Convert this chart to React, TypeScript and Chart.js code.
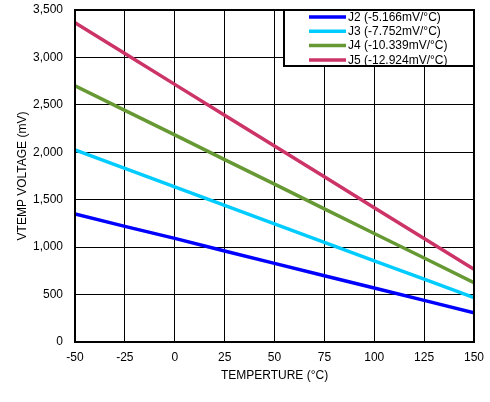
import React, { useEffect, useRef } from "react";
import { Chart, registerables } from "chart.js";

Chart.register(...registerables);

const temps = [-50, -25, 0, 25, 50, 75, 100, 125, 150];
const j2 = [1349, 1219, 1092, 960, 829, 699, 569, 439, 309];
const j3 = [2024, 1830, 1635, 1440, 1246, 1051, 856, 662, 467];
const j4 = [2702, 2442, 2183, 1923, 1664, 1404, 1144, 885, 625];
const j5 = [3366, 3041, 2716, 2391, 2066, 1741, 1416, 1091, 766];
const seriesLabels = [
  "J2 (-5.166mV/°C)",
  "J3 (-7.752mV/°C)",
  "J4 (-10.339mV/°C)",
  "J5 (-12.924mV/°C)",
];
const seriesColors = ["#0000FF", "#00CCFF", "#669933", "#CC3366"];
const xTitle = "TEMPERTURE (°C)";
const yTitle = "VTEMP VOLTAGE (mV)";

const FONT = "'Liberation Sans', Arial, Helvetica, sans-serif";

const framePlugin = {
  id: "frameAndLegend",
  afterDatasetsDraw(chart: any) {
    const { ctx, chartArea } = chart;
    ctx.save();
    ctx.strokeStyle = "#000";
    ctx.lineWidth = 2;
    ctx.strokeRect(
      chartArea.left,
      chartArea.top,
      chartArea.right - chartArea.left,
      chartArea.bottom - chartArea.top
    );
    const bx = 284;
    const by = chartArea.top;
    const bw = chartArea.right - bx;
    const bh = 56;
    ctx.fillStyle = "#fff";
    ctx.fillRect(bx, by, bw, bh);
    ctx.strokeRect(bx, by, bw, bh);
    ctx.font = `12px ${FONT}`;
    ctx.textBaseline = "middle";
    ctx.textAlign = "left";
    chart.data.datasets.forEach((ds: any, i: number) => {
      const y = by + 7 + i * 14.3;
      ctx.strokeStyle = ds.borderColor;
      ctx.lineWidth = 3.5;
      ctx.beginPath();
      ctx.moveTo(309, y);
      ctx.lineTo(346, y);
      ctx.stroke();
      ctx.fillStyle = "#000";
      ctx.fillText(ds.label, 348, y + 0.5);
    });
    ctx.restore();
  },
};

export default function App() {
  const ref = useRef<HTMLCanvasElement>(null);
  useEffect(() => {
    if (!ref.current) return;
    const series = [j2, j3, j4, j5];
    const chart = new Chart(ref.current, {
      type: "line",
      data: {
        datasets: series.map((s, i) => ({
          label: seriesLabels[i],
          data: s.map((v, k) => ({ x: temps[k], y: v })),
          borderColor: seriesColors[i],
          backgroundColor: seriesColors[i],
          borderWidth: 3.5,
          pointRadius: 0,
          tension: 0,
          fill: false,
        })),
      },
      options: {
        animation: false,
        responsive: false,
        devicePixelRatio: 1,
        layout: { padding: { left: 0, right: 16, top: 10, bottom: 0 } },
        plugins: { legend: { display: false }, tooltip: { enabled: false } },
        scales: {
          x: {
            type: "linear",
            min: -50,
            max: 150,
            afterFit: (s: any) => {
              s.height = 60;
              s.paddingLeft = 0;
              s.paddingRight = 0;
            },
            ticks: {
              stepSize: 25,
              padding: 8,
              color: "#000",
              font: { family: FONT, size: 12 },
              maxRotation: 0,
            },
            grid: { color: "#000", lineWidth: 1, drawTicks: false },
            border: { display: true, color: "#000", width: 2 },
            title: {
              display: true,
              text: xTitle,
              color: "#000",
              font: { family: FONT, size: 12 },
              padding: { top: 0, bottom: 19 },
            },
          },
          y: {
            type: "linear",
            min: 0,
            max: 3500,
            afterFit: (s: any) => {
              s.width = 75;
              s.paddingTop = 0;
              s.paddingBottom = 0;
            },
            ticks: {
              stepSize: 500,
              padding: 12,
              color: "#000",
              font: { family: FONT, size: 12 },
              callback: (v: any) => Number(v).toLocaleString("en-US"),
            },
            grid: { color: "#000", lineWidth: 1, drawTicks: false },
            border: { display: true, color: "#000", width: 2 },
            title: {
              display: true,
              text: yTitle,
              color: "#000",
              font: { family: FONT, size: 12 },
              padding: { top: 15, bottom: 0 },
            },
          },
        },
      },
      plugins: [framePlugin],
    });
    return () => chart.destroy();
  }, []);
  return (
    <div style={{ position: "fixed", left: 0, top: 0, width: 490, height: 402, background: "#fff" }}>
      <canvas ref={ref} width={490} height={402} style={{ width: 490, height: 402 }} />
    </div>
  );
}
